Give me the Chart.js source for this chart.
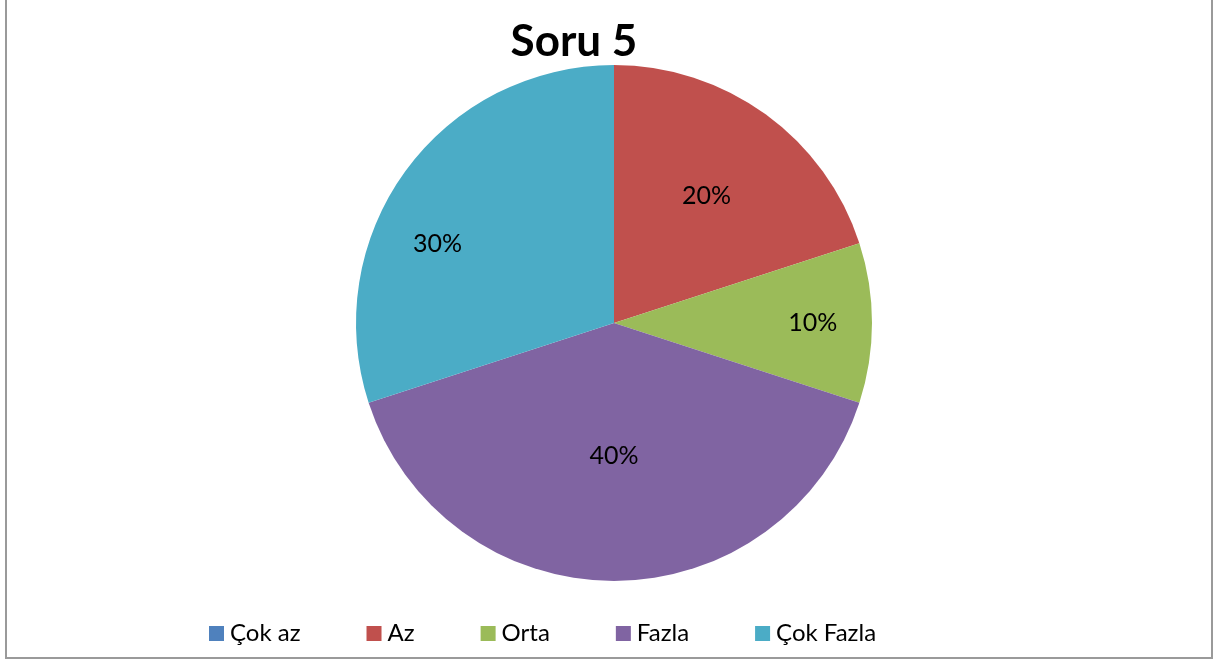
<!DOCTYPE html>
<html>
<head>
<meta charset="utf-8">
<script src="https://cdn.jsdelivr.net/npm/chart.js@4"></script>
<style>
  html, body { margin: 0; padding: 0; background: #fff; }
  #wrap { position: relative; width: 1214px; height: 661px; overflow: hidden; }
  #frame { position: absolute; left: 5px; top: -5px; width: 1204px; height: 660px; border: 2px solid #9a9a9a; }
  canvas { position: absolute; left: 0; top: 0; }
</style>
</head>
<body>
<div id="wrap">
  <div id="frame"></div>
  <canvas id="pieChart" width="1214" height="661"></canvas>
</div>
<script>
const titleText = 'Soru 5';
const categories = ['Çok az', 'Az', 'Orta', 'Fazla', 'Çok Fazla'];
const percents = [0, 20, 10, 40, 30];
const colors = ['#4f81bd', '#c0504d', '#9bbb59', '#8064a2', '#4bacc6'];

// where the % labels sit inside each slice (Excel "best fit")
const labelAngleFrac = [0.5, 0.5, 0.5, 0.5, 0.39];
const labelRadiusFrac = [0.6, 0.61, 0.77, 0.515, 0.75];

const fontFamily = 'Lato, "Open Sans", sans-serif';

const textPlugin = {
    id: 'textPlugin',
    afterDraw(chart) {
        const ctx = chart.ctx;
        ctx.save();
        ctx.fillStyle = '#000';

        // title
        ctx.font = 'bold 44px ' + fontFamily;
        ctx.textAlign = 'center';
        ctx.textBaseline = 'alphabetic';
        ctx.fillText(titleText, 574, 56);

        // percentage labels
        ctx.font = '25px ' + fontFamily;
        ctx.textBaseline = 'middle';
        const meta = chart.getDatasetMeta(0);
        meta.data.forEach((arc, i) => {
            if (!percents[i]) return;
            const p = arc.getProps(['x', 'y', 'startAngle', 'endAngle', 'outerRadius'], true);
            const a = p.startAngle + (p.endAngle - p.startAngle) * labelAngleFrac[i];
            const r = p.outerRadius * labelRadiusFrac[i];
            ctx.fillText(percents[i] + '%', p.x + Math.cos(a) * r, p.y + Math.sin(a) * r);
        });

        // legend
        ctx.font = '24px ' + fontFamily;
        ctx.textAlign = 'left';
        ctx.textBaseline = 'alphabetic';
        let x = 209;
        categories.forEach((label, i) => {
            ctx.fillStyle = colors[i];
            ctx.fillRect(x, 626, 15, 15);
            ctx.fillStyle = '#000';
            ctx.fillText(label, x + 21, 641);
            x += 21 + ctx.measureText(label).width + 66;
        });
        ctx.restore();
    }
};

var pieChart = document.getElementById('pieChart').getContext('2d');

var newChart = new Chart(pieChart, {
    type: 'pie',
    data: {
        labels: categories,
        datasets: [{
            data: percents,
            backgroundColor: colors,
            borderWidth: 0
        }]
    },
    options: {
        responsive: false,
        animation: false,
        layout: {
            padding: { top: 65, bottom: 80, left: 14, right: 0 }
        },
        plugins: {
            legend: { display: false },
            title: { display: false },
            tooltip: { enabled: false }
        }
    },
    plugins: [textPlugin]
});
</script>
</body>
</html>
